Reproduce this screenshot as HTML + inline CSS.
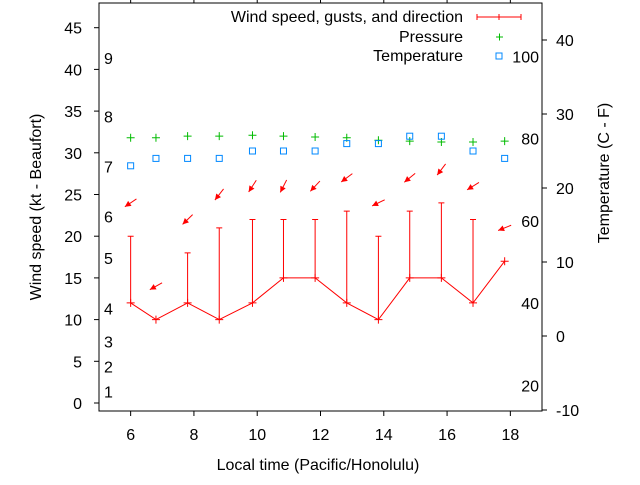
<!DOCTYPE html>
<html><head><meta charset="utf-8"><style>
body{margin:0;background:#fff}
svg text{font-family:"Liberation Sans",sans-serif;font-size:16px;fill:#000}
</style></head><body>
<svg width="640" height="480" xmlns="http://www.w3.org/2000/svg" id="chart">
<rect width="640" height="480" fill="#fff"/>
<g id="marks"></g>
<rect x="99" y="3" width="443" height="408" fill="none" stroke="#000" stroke-width="1"/>
<text x="318" y="470" text-anchor="middle">Local time (Pacific/Honolulu)</text>
<text transform="translate(41,207) rotate(-90)" text-anchor="middle">Wind speed (kt - Beaufort)</text>
<text transform="translate(609,173) rotate(-90)" text-anchor="middle">Temperature (C - F)</text>
<g>
<text x="463" y="22" text-anchor="end">Wind speed, gusts, and direction</text>
<path d="M477 17H521M477 14V20M499 14V20M521 14V20" stroke="#f00" fill="none"/>
<text x="463" y="42" text-anchor="end">Pressure</text>
<path d="M496 37H503M499.5 33.5V40.5" stroke="#0b0"/>
<text x="463" y="61" text-anchor="end">Temperature</text>
<rect x="496" y="53" width="6" height="6" fill="none" stroke="#08f"/>
</g>
</svg>
<script>
const times=[6.0,6.8,7.8,8.8,9.85,10.83,11.83,12.83,13.83,14.82,15.82,16.82,17.82];
const wind=[12,10,12,10,12,15,15,12,10,15,15,12,17];
const gusts=[20,null,18,21,22,22,22,23,20,23,24,22,null];
const arrowLevel=[24,14,22,25,26,26,26,27,24,27,28,26,21];
const dirFrom=[56,61,46,38,33,27,43,53,64,51,37,58,68];
const pressure=[31.8,31.8,32.0,32.0,32.1,32.0,31.9,31.8,31.5,31.4,31.3,31.3,31.4];
const tempC=[23,24,24,24,25,25,25,26,26,27,27,25,24];
const xTicks=[6,8,10,12,14,16,18];
const yTicks=[0,5,10,15,20,25,30,35,40,45];
const y2Ticks=[-10,0,10,20,30,40];
const beaufortKt=[1,4,7,11,17,22,28,34,41];
const beaufortLabels=["1","2","3","4","5","6","7","8","9"];
const fahrenheit=[20,40,60,80,100];

const X=v=>99+(v-5)*(443/14);
const Y=v=>403-v*8.34;
const Y2=v=>336-v*7.4;
const NS="http://www.w3.org/2000/svg";
const svg=document.getElementById('chart');
const g=document.getElementById('marks');
function mk(tag,attrs,parent){const e=document.createElementNS(NS,tag);for(const k in attrs)e.setAttribute(k,attrs[k]);(parent||g).appendChild(e);return e;}

xTicks.forEach(t=>{
  const l=mk('path',{d:`M${X(t)} 411V416M${X(t)} 3V-2`,stroke:'#000'});
  
  
  const tx=mk('text',{x:X(t),y:440,'text-anchor':'middle'});tx.textContent=t;
  
  
});
yTicks.forEach(t=>{
  const l=mk('path',{d:`M94 ${Y(t)}H99`,stroke:'#000'});
  
  
  const tx=mk('text',{x:82,y:Y(t)+6,'text-anchor':'end'});tx.textContent=t;
  
  
});
y2Ticks.forEach(t=>{
  const l=mk('path',{d:`M542 ${Y2(t)}H547`,stroke:'#000'});
  
  
  const tx=mk('text',{x:556,y:Y2(t)+6,'text-anchor':'start'});tx.textContent=t;
  
  
});
beaufortKt.forEach((k,i)=>{
  const tx=mk('text',{x:104,y:Y(k)+3});tx.textContent=beaufortLabels[i];
  
  
});
fahrenheit.forEach(f=>{
  const tx=mk('text',{x:539,y:Y2((f-32)*5/9)+6,'text-anchor':'end'});tx.textContent=f;
  
  
});
const wl=mk('polyline',{points:times.map((t,i)=>X(t)+','+Y(wind[i])).join(' '),fill:'none',stroke:'#f00'});


times.forEach((t,i)=>{
  const x=X(t),y=Y(wind[i]);
  const p=mk('path',{d:`M${x-4} ${y}H${x+4}M${x} ${y-4}V${y+4}`,stroke:'#f00'});
  
  
  if(gusts[i]!=null){
    const gy=Y(gusts[i]);
    const b=mk('path',{d:`M${x} ${y}V${gy}M${x-3} ${gy}H${x+3}`,stroke:'#f00'});
    
    
  }
  const a=dirFrom[i]*Math.PI/180, L=14;
  const dx=-Math.sin(a), dy=Math.cos(a);
  const cx=x, cy=Y(arrowLevel[i]);
  const x0=cx-dx*L/2, y0=cy-dy*L/2, x1=cx+dx*L/2, y1=cy+dy*L/2;
  const px=-dy, py=dx, h=6;
  const ar=mk('g',{});
  
  
  mk('line',{x1:x0,y1:y0,x2:x1,y2:y1,stroke:'#f00'},ar);
  mk('polygon',{points:`${x1},${y1} ${x1-dx*h+px*3},${y1-dy*h+py*3} ${x1-dx*h-px*3},${y1-dy*h-py*3}`,fill:'#f00'},ar);
  const py2=Y(pressure[i]);
  const pp=mk('path',{d:`M${x-4} ${py2}H${x+4}M${x} ${py2-4}V${py2+4}`,stroke:'#0b0'});
  
  
  const ty=Y2(tempC[i]);
  const tr=mk('rect',{x:x-3,y:ty-3,width:6,height:6,fill:'none',stroke:'#08f'});
  
  
});
</script>
</body></html>
